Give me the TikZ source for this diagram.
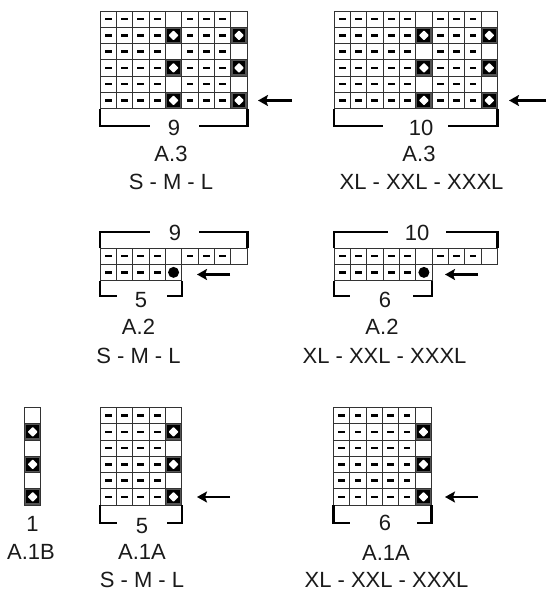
\documentclass[tikz,border=0pt]{standalone}
\usepackage{fontspec}
\setmainfont{Liberation Sans}
\usetikzlibrary{arrows.meta}
\definecolor{gridc}{HTML}{333333}
\definecolor{kgray}{HTML}{555555}
\definecolor{txt}{HTML}{1A1A1A}
\def\cw{16.35}
\def\ch{16.25}
\newcommand\cellD{\draw[cellst] (0,0) rectangle (\cw,\ch); \fill[black] (\cw/2-3.4,\ch/2-1.3) rectangle ++(6.8,2.6);}
\newcommand\cellE{\draw[cellst] (0,0) rectangle (\cw,\ch);}
\newcommand\cellK{\fill[kgray] (0,0) rectangle (\cw,\ch); \fill[black] (1.7,1.7) rectangle (\cw-1.7,\ch-1.7);
  \fill[white,rounded corners=0.8pt] (\cw/2,\ch/2-5) -- (\cw/2+5,\ch/2) -- (\cw/2,\ch/2+5) -- (\cw/2-5,\ch/2) -- cycle;
  \draw[cellst] (0,0) rectangle (\cw,\ch);}
\newcommand\cellO{\draw[cellst] (0,0) rectangle (\cw,\ch); \fill[black] (\cw/2,\ch/2) circle[radius=5.5pt];}
\newcommand\chartrow[3]{\foreach \s [count=\i from 0] in {#3} {\begin{scope}[shift={(#1+\i*\cw,#2)}]\s\end{scope}}}
\tikzset{
  cellst/.style={draw=gridc,line width=0.9pt},
  brk/.style={draw=black,line width=2.6pt,line join=miter},
  arr/.style={draw=black,line width=2.2pt,-{Stealth[length=10pt,width=11pt,inset=2pt]}},
  lbl/.style={font=\fontsize{22}{26}\selectfont,text=txt,anchor=base,inner sep=0pt}
}
\begin{document}
\begin{tikzpicture}[x=1pt,y=-1pt]
\useasboundingbox (0,0) rectangle (550,597);
% ---------- A.3 S-M-L ----------
\foreach \r in {0,2,4}{\chartrow{100}{11+\r*\ch}{\cellD,\cellD,\cellD,\cellD,\cellE,\cellD,\cellD,\cellD,\cellE}}
\foreach \r in {1,3,5}{\chartrow{100}{11+\r*\ch}{\cellD,\cellD,\cellD,\cellD,\cellK,\cellD,\cellD,\cellD,\cellK}}
\draw[brk] (100,108.5) |- (150,126);
\draw[brk] (199,126) -| (247.2,108.5);
\node[lbl] (n9a) at (174,135) {9};
\node[lbl] (a3s) at (171,161) {A.3};
\node[lbl] (s3s) at (171,189.5) {S - M - L};
\coordinate (a3sf) at (292,100.5);
\coordinate (a3st) at (258,100.5);
\draw[arr] (a3sf) -- (a3st);
% ---------- A.3 XL ----------
\foreach \r in {0,2,4}{\chartrow{334}{11+\r*\ch}{\cellD,\cellD,\cellD,\cellD,\cellD,\cellE,\cellD,\cellD,\cellD,\cellE}}
\foreach \r in {1,3,5}{\chartrow{334}{11+\r*\ch}{\cellD,\cellD,\cellD,\cellD,\cellD,\cellK,\cellD,\cellD,\cellD,\cellK}}
\draw[brk] (334,108.5) |- (383,126);
\draw[brk] (448,126) -| (497.5,108.5);
\node[lbl] (n10a) at (421,135) {10};
\node[lbl] (a3x) at (419,161) {A.3};
\node[lbl] (s3x) at (421.5,189.5) {XL - XXL - XXXL};
\coordinate (a3xf) at (546,100.5);
\coordinate (a3xt) at (509,100.5);
\draw[arr] (a3xf) -- (a3xt);
% ---------- A.2 S-M-L ----------
\chartrow{100}{248}{\cellD,\cellD,\cellD,\cellD,\cellE,\cellD,\cellD,\cellD,\cellE}
\chartrow{100}{248+\ch}{\cellD,\cellD,\cellD,\cellD,\cellO}
\draw[brk] (100,248) |- (150,232);
\draw[brk] (199,232) -| (247.2,248);
\draw[brk] (100,280.5) |- (117,296);
\draw[brk] (167,296) -| (181.8,280.5);
\node[lbl] (n9b) at (175,240) {9};
\node[lbl] (n5b) at (141,307) {5};
\node[lbl] (a2s) at (138.5,334) {A.2};
\node[lbl] (s2s) at (138.5,363) {S - M - L};
\coordinate (a2sf) at (230,274.5);
\coordinate (a2st) at (197,274.5);
\draw[arr] (a2sf) -- (a2st);
% ---------- A.2 XL ----------
\chartrow{334}{248}{\cellD,\cellD,\cellD,\cellD,\cellD,\cellE,\cellD,\cellD,\cellD,\cellE}
\chartrow{334}{248+\ch}{\cellD,\cellD,\cellD,\cellD,\cellD,\cellO}
\draw[brk] (334,248) |- (388,232);
\draw[brk] (446,232) -| (497.5,248);
\draw[brk] (334,280.5) |- (350,296);
\draw[brk] (413,296) -| (432.1,280.5);
\node[lbl] (n10b) at (417,240) {10};
\node[lbl] (n6b) at (385,307) {6};
\node[lbl] (a2x) at (382,334) {A.2};
\node[lbl] (s2x) at (384.5,363) {XL - XXL - XXXL};
\coordinate (a2xf) at (478,274.5);
\coordinate (a2xt) at (445,274.5);
\draw[arr] (a2xf) -- (a2xt);
% ---------- A.1B ----------
\foreach \r in {0,2,4}{\chartrow{24.5}{407.5+\r*\ch}{\cellE}}
\foreach \r in {1,3,5}{\chartrow{24.5}{407.5+\r*\ch}{\cellK}}
\node[lbl] (n1c) at (32.5,531) {1};
\node[lbl] (a1b) at (31,559.5) {A.1B};
% ---------- A.1A S-M-L ----------
\foreach \r in {0,2,4}{\chartrow{100}{407.5+\r*\ch}{\cellD,\cellD,\cellD,\cellD,\cellE}}
\foreach \r in {1,3,5}{\chartrow{100}{407.5+\r*\ch}{\cellD,\cellD,\cellD,\cellD,\cellK}}
\draw[brk] (100,505) |- (117,523);
\draw[brk] (167,523) -| (181.8,505);
\node[lbl] (n5c) at (142,533) {5};
\node[lbl] (a1as) at (142,559.5) {A.1A};
\node[lbl] (s1s) at (142,587) {S - M - L};
\coordinate (a1sf) at (230,497);
\coordinate (a1st) at (197,497);
\draw[arr] (a1sf) -- (a1st);
% ---------- A.1A XL ----------
\foreach \r in {0,2,4}{\chartrow{333.5}{407.5+\r*\ch}{\cellD,\cellD,\cellD,\cellD,\cellD,\cellE}}
\foreach \r in {1,3,5}{\chartrow{333.5}{407.5+\r*\ch}{\cellD,\cellD,\cellD,\cellD,\cellD,\cellK}}
\draw[brk] (333.5,505) |- (350,523);
\draw[brk] (417,523) -| (431.6,505);
\node[lbl] (n6c) at (385,530) {6};
\node[lbl] (a1ax) at (386,560) {A.1A};
\node[lbl] (s1x) at (386.5,587) {XL - XXL - XXXL};
\coordinate (a1xf) at (478,497);
\coordinate (a1xt) at (445,497);
\draw[arr] (a1xf) -- (a1xt);
\end{tikzpicture}
\end{document}
